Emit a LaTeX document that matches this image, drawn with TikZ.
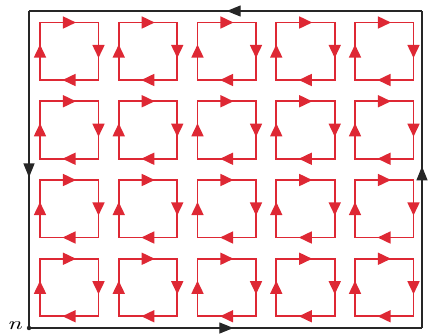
\documentclass[tikz,border=0pt]{standalone}
\usetikzlibrary{arrows.meta,decorations.markings}
\definecolor{loopred}{RGB}{222,40,52}
\tikzset{
  redloop/.style={draw=loopred, line width=1.6pt, line join=miter,
    postaction={decorate},
    decoration={markings,
      mark=at position 0.155 with {\arrow[loopred]{Triangle[length=13pt,width=12pt]}},
      mark=at position 0.405 with {\arrow[loopred]{Triangle[length=13pt,width=12pt]}},
      mark=at position 0.655 with {\arrow[loopred]{Triangle[length=13pt,width=12pt]}},
      mark=at position 0.905 with {\arrow[loopred]{Triangle[length=13pt,width=12pt]}}}},
  blackside/.style={draw=black!85, line width=1.2pt,
    postaction={decorate},
    decoration={markings,
      mark=at position #1 with {\arrow[black!85]{Triangle[length=14pt,width=11pt]}}}}
}
\begin{document}
\begin{tikzpicture}[x=1pt,y=-1pt]
\useasboundingbox (0,0) rectangle (428,333);
\coordinate (BL) at (29,328);
\coordinate (BR) at (422,328);
\coordinate (TR) at (422,11);
\coordinate (TL) at (29,11);
\draw[blackside=0.52] (BL) -- (BR);
\draw[blackside=0.51] (BR) -- (TR);
\draw[blackside=0.497] (TR) -- (TL);
\draw[blackside=0.525] (TL) -- (BL);
\fill[black!85] (BL) circle (2.2pt);
\node[anchor=base east, inner sep=0pt, scale=1.8] (n) at (22,329) {\itshape\scalebox{1.4}[1]{n}};
\foreach \i in {0,...,4}{
  \foreach \j in {0,...,3}{
    \pgfmathsetmacro{\l}{40+\i*78.75}
    \pgfmathsetmacro{\t}{22.5+\j*78.75}
    \pgfmathsetmacro{\r}{\l+58.5}
    \pgfmathsetmacro{\b}{\t+57.5}
    \path[redloop] (\l,\t) -- (\r,\t) -- (\r,\b) -- (\l,\b) -- cycle;
  }
}
\end{tikzpicture}
\end{document}
